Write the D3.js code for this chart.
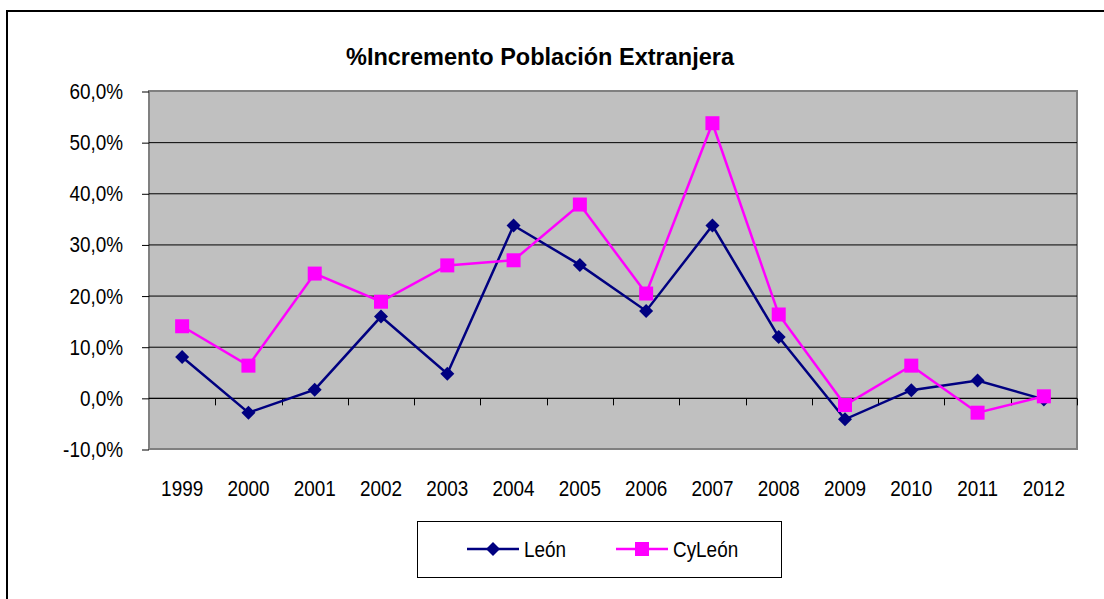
<!DOCTYPE html>
<html>
<head>
<meta charset="utf-8">
<script src="https://cdn.jsdelivr.net/npm/d3@7"></script>
<style>
  body { margin: 0; background: #fff; }
  text { font-family: "Liberation Sans", Arial, sans-serif; fill: #000; }
</style>
</head>
<body>
<svg width="1104" height="599"></svg>
<script>

var years = ['1999', '2000', '2001', '2002', '2003', '2004', '2005', '2006', '2007', '2008', '2009', '2010', '2011', '2012'];

var leon   = [8.0, -2.9, 1.6, 15.9, 4.7, 33.7, 26.0, 17.0, 33.7, 11.9, -4.2, 1.5, 3.4, -0.3];
var cyleon = [14.0, 6.3, 24.3, 18.8, 25.9, 26.9, 37.8, 20.4, 53.7, 16.3, -1.4, 6.3, -2.9, 0.3];

var yTicks = [-10, 0, 10, 20, 30, 40, 50, 60];

var svg = d3.select("svg"),
    width = +svg.attr("width"),
    height = +svg.attr("height");

var plot = {left: 149, top: 91, right: 1077, bottom: 449};
var narrow = 0.86;   // squeeze Liberation Sans to look like Arial Narrow

function label(g, px, py, txt, size, anchor, sx){
  return g.append("text")
    .attr("transform", "translate(" + px + "," + py + ") scale(" + (sx || narrow) + ",1)")
    .attr("text-anchor", anchor || "start")
    .style("font-size", size + "px")
    .text(txt);
}

// outer chart border
svg.append("rect")
    .attr("x", 7).attr("y", 11)
    .attr("width", 1120).attr("height", 620)
    .attr("fill", "none")
    .attr("stroke", "#000")
    .attr("stroke-width", 2);

label(svg, 540, 65, "%Incremento Población Extranjera", 24, "middle", 0.98)
    .style("font-weight", "bold");

var x = d3.scaleBand().domain(years).range([plot.left, plot.right]);
var y = d3.scaleLinear().domain([-10, 60]).range([plot.bottom, plot.top]);

svg.append("rect")
    .attr("x", plot.left).attr("y", plot.top)
    .attr("width", plot.right - plot.left)
    .attr("height", plot.bottom - plot.top)
    .attr("fill", "#c0c0c0")
    .attr("stroke", "#808080")
    .attr("stroke-width", 2);

// gridlines
svg.append("g")
  .selectAll("line")
    .data(yTicks.filter(function(d){ return d > -10 && d < 60; }))
  .enter().append("line")
    .attr("x1", plot.left).attr("x2", plot.right)
    .attr("y1", function(d){ return y(d) + 0.5; })
    .attr("y2", function(d){ return y(d) + 0.5; })
    .attr("stroke", "#000")
    .attr("stroke-width", 1);

// y axis ticks
var yAxis = svg.append("g")
    .attr("transform", "translate(" + plot.left + ",0.5)")
    .call(d3.axisLeft(y).tickValues(yTicks).tickSize(7).tickFormat(""));
yAxis.select(".domain").remove();
yAxis.selectAll("line").attr("stroke", "#000");

var yl = svg.append("g");
yTicks.forEach(function(d){
  var s = d.toFixed(1).replace(".", ",") + "%";
  label(yl, 123, y(d) + 8, s, 22, "end");
});

// x axis along zero line, ticks between categories
var xg = svg.append("g").attr("transform", "translate(0," + (y(0) + 0.5) + ")");
xg.append("line")
    .attr("x1", plot.left).attr("x2", plot.right)
    .attr("stroke", "#000");
xg.selectAll(".tk")
    .data(years.slice(1).concat(["end"]))
  .enter().append("line")
    .attr("class", "tk")
    .attr("x1", function(d, i){ return Math.round(plot.left + x.bandwidth() * (i + 1)) + 0.5; })
    .attr("x2", function(d, i){ return Math.round(plot.left + x.bandwidth() * (i + 1)) + 0.5; })
    .attr("y1", 0).attr("y2", 7)
    .attr("stroke", "#000");

var xl = svg.append("g");
years.forEach(function(d){
  label(xl, x(d) + x.bandwidth() / 2, 496, d, 22, "middle");
});

var line = d3.line()
    .x(function(d, i){ return x(years[i]) + x.bandwidth() / 2; })
    .y(function(d){ return y(d); });

function diamond(sel, cx, cy){
  sel.append("path")
    .attr("d", "M" + cx + "," + (cy - 7) + "L" + (cx + 7) + "," + cy + "L" + cx + "," + (cy + 7) + "L" + (cx - 7) + "," + cy + "Z")
    .attr("fill", "#000080");
}
function square(sel, cx, cy){
  sel.append("rect")
    .attr("x", cx - 7).attr("y", cy - 7)
    .attr("width", 14).attr("height", 14)
    .attr("fill", "#ff00ff");
}

svg.append("path")
    .datum(leon)
    .attr("d", line)
    .attr("fill", "none")
    .attr("stroke", "#000080")
    .attr("stroke-width", 2.5);

svg.append("path")
    .datum(cyleon)
    .attr("d", line)
    .attr("fill", "none")
    .attr("stroke", "#ff00ff")
    .attr("stroke-width", 2.5);

var mk = svg.append("g");
leon.forEach(function(d, i){ diamond(mk, x(years[i]) + x.bandwidth() / 2, y(d)); });
cyleon.forEach(function(d, i){ square(mk, x(years[i]) + x.bandwidth() / 2, y(d)); });

// legend
var lg = svg.append("g");
lg.append("rect")
    .attr("x", 417.5).attr("y", 521.5)
    .attr("width", 364).attr("height", 56)
    .attr("fill", "#fff")
    .attr("stroke", "#000")
    .attr("stroke-width", 1);

var items = [
  {name: "León", color: "#000080", x0: 467, shape: diamond},
  {name: "CyLeón", color: "#ff00ff", x0: 616, shape: square}
];
items.forEach(function(it){
  lg.append("line")
    .attr("x1", it.x0).attr("x2", it.x0 + 52)
    .attr("y1", 549).attr("y2", 549)
    .attr("stroke", it.color)
    .attr("stroke-width", 2.5);
  it.shape(lg, it.x0 + 26, 549);
  label(lg, it.x0 + 57, 557, it.name, 22);
});

</script>
</body>
</html>
